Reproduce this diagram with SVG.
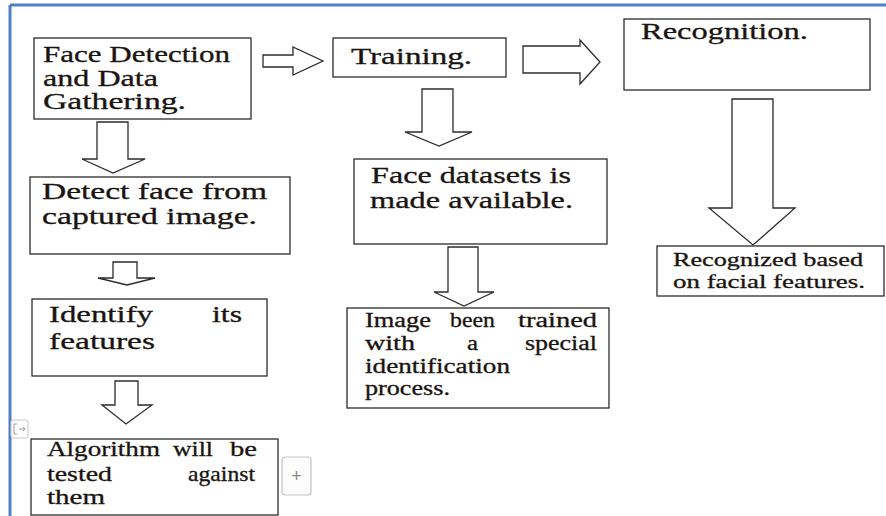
<svg xmlns="http://www.w3.org/2000/svg" width="886" height="516" viewBox="0 0 886 516">
<style>
.box{fill:#fff;stroke:#2b2b2b;stroke-width:1.3}
.arr{fill:#fff;stroke:#2b2b2b;stroke-width:1.3;stroke-linejoin:miter}
text{font-family:"Liberation Serif","Times New Roman",serif;fill:#1a1410;stroke:#1a1410;stroke-width:0.3}
.t23{font-size:23px}
.t21{font-size:21px}
.t20{font-size:20px}
.t18{font-size:18px}
.frame{stroke:#4f7fc6;stroke-width:3;fill:none}
</style>
<rect x="0" y="0" width="886" height="516" fill="#fff"/>
<g id="frame">
<line class="frame" x1="10" y1="5" x2="886" y2="5"/>
<line class="frame" x1="10" y1="5" x2="10" y2="516"/>
</g>
<g id="connectors">
<polygon class="arr" points="263,55 293,55 293,47 323,61 293,75 293,67 263,67"/>
<polygon class="arr" points="523,46 580,46 580,40 600,62 580,84 580,73 523,73"/>
<polygon class="arr" points="422,89 453,89 453,132 472,132 439,146 405,132 422,132"/>
<polygon class="arr" points="97,122 128,122 128,159 145,159 113,173 82,159 97,159"/>
<polygon class="arr" points="732,99 773,99 773,208 795,208 753,245 709,208 732,208"/>
<polygon class="arr" points="448,247 478,247 478,292 494,292 464,306 434,292 448,292"/>
<polygon class="arr" points="113,262 137,262 137,278 155,278 127,285 98,278 113,278"/>
<polygon class="arr" points="115,381 138,381 138,405 152,405 126,424 102,405 115,405"/>
</g>
<g id="face-detection">
<rect class="box" x="34" y="38" width="217" height="81"/>
<text class="t23" x="43" y="62" textLength="187" lengthAdjust="spacingAndGlyphs">Face Detection</text>
<text class="t23" x="43" y="86" textLength="115" lengthAdjust="spacingAndGlyphs">and Data</text>
<text class="t23" x="43" y="109" textLength="143" lengthAdjust="spacingAndGlyphs">Gathering.</text>
</g>
<g id="training">
<rect class="box" x="333" y="38" width="173" height="39"/>
<text class="t23" x="351" y="64" textLength="121" lengthAdjust="spacingAndGlyphs">Training.</text>
</g>
<g id="recognition">
<rect class="box" x="624" y="19" width="246" height="71"/>
<text class="t23" x="641" y="39" textLength="167" lengthAdjust="spacingAndGlyphs">Recognition.</text>
</g>
<g id="detect-face">
<rect class="box" x="30" y="177" width="260" height="77"/>
<text class="t23" x="42" y="199" textLength="225" lengthAdjust="spacingAndGlyphs">Detect face from</text>
<text class="t23" x="42" y="224" textLength="215" lengthAdjust="spacingAndGlyphs">captured image.</text>
</g>
<g id="face-datasets">
<rect class="box" x="354" y="159" width="253" height="85"/>
<text class="t23" x="371" y="183" textLength="200" lengthAdjust="spacingAndGlyphs">Face datasets is</text>
<text class="t23" x="370" y="208" textLength="203" lengthAdjust="spacingAndGlyphs">made available.</text>
</g>
<g id="recognized">
<rect class="box" x="657" y="246" width="227" height="50"/>
<text class="t18" x="673" y="266" textLength="190" lengthAdjust="spacingAndGlyphs">Recognized based</text>
<text class="t18" x="673" y="288" textLength="192" lengthAdjust="spacingAndGlyphs">on facial features.</text>
</g>
<g id="identify">
<rect class="box" x="32" y="299" width="235" height="77"/>
<text class="t23" x="49" y="322" textLength="104" lengthAdjust="spacingAndGlyphs">Identify</text>
<text class="t23" x="212" y="322" textLength="30" lengthAdjust="spacingAndGlyphs">its</text>
<text class="t23" x="49" y="349" textLength="106" lengthAdjust="spacingAndGlyphs">features</text>
</g>
<g id="image-trained">
<rect class="box" x="347" y="308" width="262" height="100"/>
<text class="t20" x="365" y="327" textLength="66" lengthAdjust="spacingAndGlyphs">Image</text>
<text class="t20" x="450" y="327" textLength="45" lengthAdjust="spacingAndGlyphs">been</text>
<text class="t20" x="518" y="327" textLength="79" lengthAdjust="spacingAndGlyphs">trained</text>
<text class="t20" x="365" y="350" textLength="50" lengthAdjust="spacingAndGlyphs">with</text>
<text class="t20" x="467" y="350" textLength="11" lengthAdjust="spacingAndGlyphs">a</text>
<text class="t20" x="525" y="350" textLength="72" lengthAdjust="spacingAndGlyphs">special</text>
<text class="t20" x="365" y="373" textLength="145" lengthAdjust="spacingAndGlyphs">identification</text>
<text class="t20" x="365" y="395" textLength="85" lengthAdjust="spacingAndGlyphs">process.</text>
</g>
<g id="algorithm">
<rect class="box" x="31" y="439" width="247" height="76"/>
<text class="t21" x="47" y="456" textLength="113" lengthAdjust="spacingAndGlyphs">Algorithm</text>
<text class="t21" x="173" y="456" textLength="40" lengthAdjust="spacingAndGlyphs">will</text>
<text class="t21" x="230" y="456" textLength="27" lengthAdjust="spacingAndGlyphs">be</text>
<text class="t21" x="47" y="481" textLength="65" lengthAdjust="spacingAndGlyphs">tested</text>
<text class="t21" x="188" y="481" textLength="67" lengthAdjust="spacingAndGlyphs">against</text>
<text class="t21" x="47" y="504" textLength="58" lengthAdjust="spacingAndGlyphs">them</text>
</g>
<g id="layout-icon">
<rect x="11" y="420" width="17" height="18" rx="2" fill="#fff" stroke="#c8c8c8" stroke-width="1"/>
<path d="M14,424 h3 M14,424 v10 M14,434 h3 M19,429 h6 M23,427 l2,2 l-2,2" fill="none" stroke="#9a9a9a" stroke-width="1"/>
</g>
<g id="plus-button">
<rect x="282" y="457" width="29" height="38" rx="3" fill="#fcfcfc" stroke="#c4c4c4" stroke-width="1.2"/>
<text x="296.5" y="482" text-anchor="middle" style="font-family:'Liberation Sans',Arial,sans-serif;font-size:18px;fill:#8a8a8a;stroke:none">+</text>
</g>
</svg>
